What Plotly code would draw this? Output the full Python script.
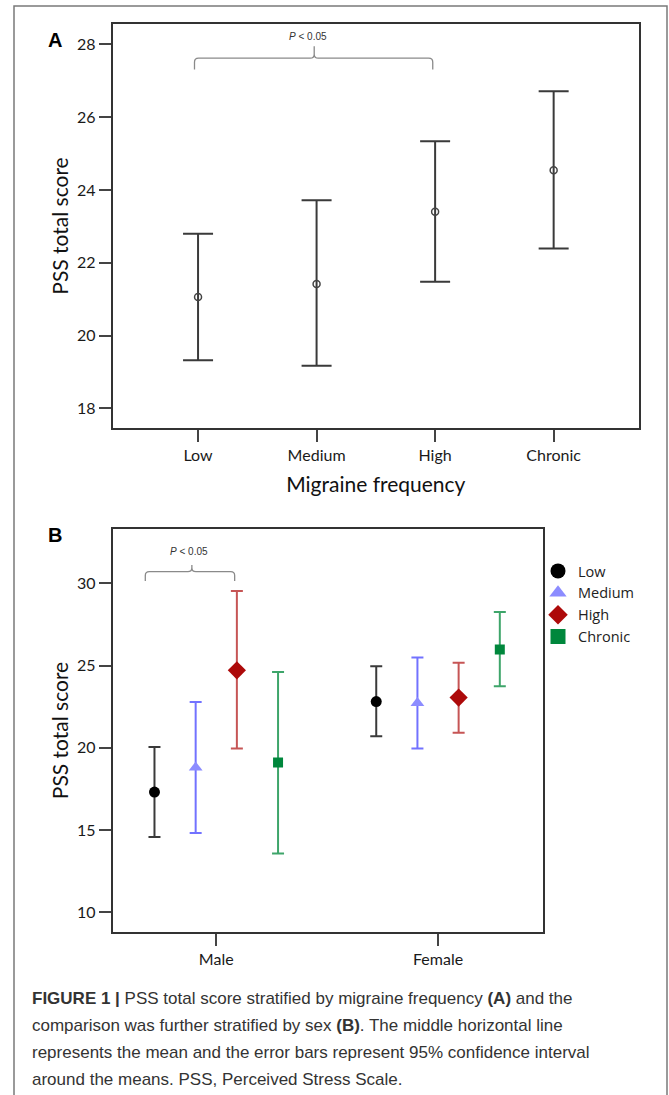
import numpy as np
import plotly.graph_objects as go

W, H = 669, 1095

# ---------------- Data: panel A ----------------
FREQ_LABELS = ["Low", "Medium", "High", "Chronic"]
A_MEAN = [21.06, 21.42, 23.40, 24.54]
A_UPPER = [22.80, 23.72, 25.34, 26.71]
A_LOWER = [19.32, 19.17, 21.48, 22.39]
A_YTICKS = [18, 20, 22, 24, 26, 28]

# ---------------- Data: panel B ----------------
SEX_LABELS = ["Male", "Female"]
B_SERIES = ["Low", "Medium", "High", "Chronic"]
B_MEAN_LOW = [17.31, 22.81]
B_UPPER_LOW = [20.05, 24.95]
B_LOWER_LOW = [14.58, 20.70]
B_MEAN_MEDIUM = [18.80, 22.72]
B_UPPER_MEDIUM = [22.78, 25.48]
B_LOWER_MEDIUM = [14.82, 19.95]
B_MEAN_HIGH = [24.71, 23.05]
B_UPPER_HIGH = [29.53, 25.17]
B_LOWER_HIGH = [19.95, 20.92]
B_MEAN_CHRONIC = [19.10, 25.97]
B_UPPER_CHRONIC = [24.61, 28.26]
B_LOWER_CHRONIC = [13.57, 23.74]
B_YTICKS = [10, 15, 20, 25, 30]

P_TEXT = "<i>P</i> < 0.05"

# ---------------- Layout geometry (pixels) ----------------
def px_x(p):
    return p / W


def px_y(p):
    return 1 - p / H


A_DOM_X = [px_x(112.7), px_x(639)]
A_DOM_Y = [px_y(427.7), px_y(24.3)]
B_DOM_X = [px_x(112.7), px_x(542.7)]
B_DOM_Y = [px_y(931.7), px_y(529.3)]
A_XRANGE = [-0.72, 3.72]
A_YRANGE = [17.47, 28.55]
B_XRANGE = [-0.467, 1.472]
B_YRANGE = [8.82, 33.28]
B_OFFSETS = [-0.2786, -0.0929, 0.0929, 0.2786]

B_STYLE = {
    "Low": dict(symbol="circle", mcolor="#000000", ecolor="#3a3a3a", size=11, lsize=15),
    "Medium": dict(symbol="triangle-up", mcolor="#8c8cff", ecolor="#7272ff", size=12, lsize=15),
    "High": dict(symbol="diamond", mcolor="#ad0a0a", ecolor="#c65555", size=14, lsize=15),
    "Chronic": dict(symbol="square", mcolor="#00873c", ecolor="#3ea56a", size=10, lsize=15),
}

B_DATA = {
    "Low": (B_MEAN_LOW, B_UPPER_LOW, B_LOWER_LOW),
    "Medium": (B_MEAN_MEDIUM, B_UPPER_MEDIUM, B_LOWER_MEDIUM),
    "High": (B_MEAN_HIGH, B_UPPER_HIGH, B_LOWER_HIGH),
    "Chronic": (B_MEAN_CHRONIC, B_UPPER_CHRONIC, B_LOWER_CHRONIC),
}

TICK_FONT = dict(family="Lato, 'Open Sans', sans-serif", size=16, color="#1a1a1a")
TITLE_FONT = dict(family="Lato, 'Open Sans', sans-serif", size=21, color="#111111")
AXIS_COLOR = "#333333"

fig = go.Figure()

# ---------------- Panel A ----------------
a_mean = np.array(A_MEAN)
fig.add_trace(go.Scatter(
    x=FREQ_LABELS, y=A_MEAN, mode="markers",
    marker=dict(symbol="circle-open", size=7, color="#444444", line=dict(width=1.5, color="#444444")),
    error_y=dict(type="data", symmetric=False,
                 array=np.array(A_UPPER) - a_mean, arrayminus=a_mean - np.array(A_LOWER),
                 color="#3a3a3a", thickness=2, width=15),
    showlegend=False, xaxis="x", yaxis="y",
))

# ---------------- Panel B ----------------
for i, name in enumerate(B_SERIES):
    mean, up, lo = (np.array(v) for v in B_DATA[name])
    st = B_STYLE[name]
    xs = np.arange(len(SEX_LABELS)) + B_OFFSETS[i]
    fig.add_trace(go.Scatter(
        x=xs, y=mean, mode="markers",
        marker=dict(symbol=st["symbol"], size=st["size"], color=st["mcolor"]),
        error_y=dict(type="data", symmetric=False, array=up - mean, arrayminus=mean - lo,
                     color=st["ecolor"], thickness=2, width=6),
        showlegend=False, xaxis="x2", yaxis="y2", name=name,
    ))
    # legend entry
    fig.add_trace(go.Scatter(
        x=[None], y=[None], mode="markers", name=name,
        marker=dict(symbol=st["symbol"], size=st["lsize"], color=st["mcolor"]),
        showlegend=True, xaxis="x2", yaxis="y2",
    ))


def bracket_path(x0, x1, xm, yh, ye, yn, rx, ry):
    return (f"M {x0},{ye} L {x0},{yh - ry} Q {x0},{yh} {x0 + rx},{yh} "
            f"L {xm - rx},{yh} Q {xm},{yh} {xm},{yh + ry} L {xm},{yn} "
            f"M {xm},{yh + ry} Q {xm},{yh} {xm + rx},{yh} "
            f"L {x1 - rx},{yh} Q {x1},{yh} {x1},{yh - ry} L {x1},{ye}")


shapes = [
    # outer figure frame
    dict(type="rect", xref="paper", yref="paper", x0=px_x(14), x1=px_x(667), y0=-0.01, y1=px_y(6),
         line=dict(color="#7a7a7a", width=1.5), fillcolor="rgba(0,0,0,0)"),
    dict(type="path", xref="x", yref="y",
         path=bracket_path(-0.03, 1.98, 0.98, 27.62, 27.31, 27.95, 0.034, 0.11),
         line=dict(color="#8a8a8a", width=1.3)),
    dict(type="path", xref="x2", yref="y2",
         path=bracket_path(-0.32, 0.083, -0.11, 30.71, 30.14, 31.11, 0.018, 0.24),
         line=dict(color="#8a8a8a", width=1.3)),
]

CAPTION_LINES = [
    "<b>FIGURE 1 |</b> PSS total score stratified by migraine frequency <b>(A)</b> and the",
    "comparison was further stratified by sex <b>(B)</b>. The middle horizontal line",
    "represents the mean and the error bars represent 95% confidence interval",
    "around the means. PSS, Perceived Stress Scale.",
]
CAPTION_Y = [998, 1025, 1052, 1079]

annotations = [
    dict(text="<b>A</b>", x=px_x(55), y=px_y(40), xref="paper", yref="paper", showarrow=False,
         xanchor="center", yanchor="middle",
         font=dict(family="Liberation Sans, Arial", size=20, color="#000")),
    dict(text="<b>B</b>", x=px_x(55), y=px_y(535), xref="paper", yref="paper", showarrow=False,
         xanchor="center", yanchor="middle",
         font=dict(family="Liberation Sans, Arial", size=20, color="#000")),
    dict(text=P_TEXT, x=0.93, y=28.21, xref="x", yref="y", showarrow=False,
         font=dict(family="Liberation Sans, Arial", size=10, color="#333")),
    dict(text=P_TEXT, x=-0.125, y=31.92, xref="x2", yref="y2", showarrow=False,
         font=dict(family="Liberation Sans, Arial", size=10, color="#333")),
]
for t, yy in zip(CAPTION_LINES, CAPTION_Y):
    annotations.append(dict(text=t, x=px_x(30), y=px_y(yy), xref="paper", yref="paper",
                            xanchor="left", yanchor="middle", showarrow=False,
                            font=dict(family="Liberation Sans, Arial", size=17, color="#333333")))

axis_common = dict(showline=True, mirror=True, linecolor=AXIS_COLOR, linewidth=2,
                   showgrid=False, zeroline=False, ticks="outside", ticklen=12,
                   tickwidth=1.5, tickcolor="#444444", tickfont=TICK_FONT)

fig.update_layout(
    width=W, height=H, margin=dict(l=0, r=0, t=0, b=0, autoexpand=False),
    paper_bgcolor="white", plot_bgcolor="white",
    xaxis=dict(domain=A_DOM_X, anchor="y", range=A_XRANGE, type="category",
               title=dict(text="Migraine frequency", font=TITLE_FONT, standoff=14), **axis_common),
    yaxis=dict(domain=A_DOM_Y, anchor="x", range=A_YRANGE, tickvals=A_YTICKS,
               title=dict(text="PSS total score", font=TITLE_FONT, standoff=3), **axis_common),
    xaxis2=dict(domain=B_DOM_X, anchor="y2", range=B_XRANGE,
                tickvals=list(range(len(SEX_LABELS))), ticktext=SEX_LABELS, **axis_common),
    yaxis2=dict(domain=B_DOM_Y, anchor="x2", range=B_YRANGE, tickvals=B_YTICKS,
                title=dict(text="PSS total score", font=TITLE_FONT, standoff=3), **axis_common),
    legend=dict(x=px_x(538), y=px_y(555), xanchor="left", yanchor="top",
                bgcolor="rgba(0,0,0,0)", font=dict(family="'Open Sans', Lato, sans-serif", size=14.5, color="#222"),
                tracegroupgap=0, itemwidth=30),
    shapes=shapes, annotations=annotations,
)

fig.write_html(
    "out.html",
    config={"displayModeBar": False},
    post_script="document.body.style.margin='0';document.body.style.padding='0';"
                "document.documentElement.style.overflow='hidden';",
)
